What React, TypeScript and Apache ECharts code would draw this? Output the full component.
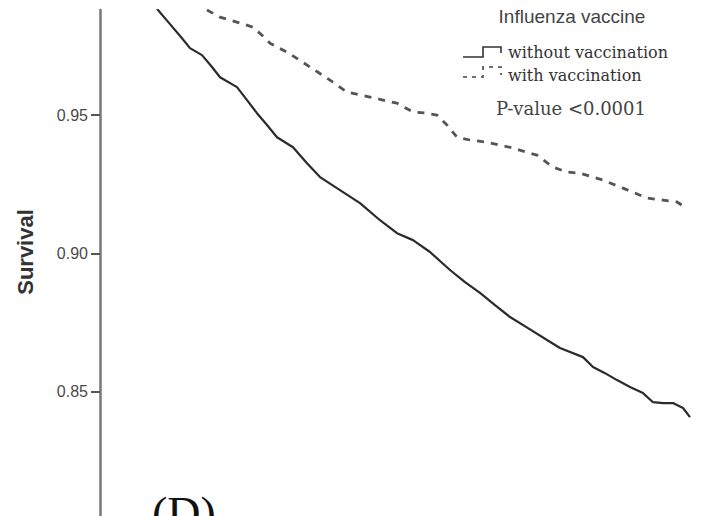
import React, { useEffect, useRef } from "react";
import * as echarts from "echarts";

// Follow-up time (arbitrary units, hidden axis) and survival, group without vaccination
const unvaccTime = [5.0, 5.8, 7.0, 8.2, 9.0, 10.2, 11.2, 12.0, 13.7, 14.7, 15.7, 16.7, 17.7, 18.5, 19.3, 20.7, 22.0, 24.0, 26.0, 28.0, 29.7, 31.3, 33.0, 35.0, 36.5, 38.0, 39.5, 41.0, 42.8, 44.7, 46.0, 48.3, 49.3, 50.5, 51.7, 53.0, 54.3, 55.3, 56.3, 57.3, 58.3, 59.0];
const unvaccSurv = [0.9937, 0.988, 0.9829, 0.9778, 0.9742, 0.9717, 0.9674, 0.9637, 0.9601, 0.9554, 0.9507, 0.9464, 0.942, 0.9402, 0.9384, 0.9326, 0.9276, 0.9229, 0.9182, 0.912, 0.9073, 0.9048, 0.9005, 0.894, 0.8896, 0.8857, 0.8813, 0.877, 0.873, 0.8687, 0.8658, 0.8625, 0.8589, 0.8567, 0.8542, 0.8517, 0.8495, 0.8462, 0.8459, 0.8459, 0.8441, 0.8408];

// Group with vaccination
const vaccTime = [10.7, 12.0, 14.0, 15.3, 16.2, 17.0, 18.7, 21.0, 23.3, 24.7, 27.0, 29.7, 31.3, 32.7, 33.7, 34.7, 35.7, 37.0, 38.7, 41.3, 43.7, 45.3, 46.7, 48.0, 50.3, 52.3, 54.7, 56.3, 57.7, 58.5];
const vaccSurv = [0.988, 0.9854, 0.9833, 0.9818, 0.9789, 0.976, 0.9728, 0.9674, 0.9619, 0.9583, 0.9565, 0.9543, 0.9511, 0.9507, 0.95, 0.9464, 0.942, 0.941, 0.9402, 0.9381, 0.9355, 0.9312, 0.9294, 0.929, 0.9265, 0.9236, 0.92, 0.9193, 0.9186, 0.9167];

const yTicks = [0.8, 0.85, 0.9, 0.95];
const yMin = 0.8;
const yMax = 0.988;
const xMax = 60;

const legendTitle = "Influenza vaccine";
const legendLabels = ["without vaccination", "with vaccination"];
const pValueText = "P-value <0.0001";
const panelLabel = "(D)";
const yAxisTitle = "Survival";

export default function App() {
  const ref = useRef<HTMLDivElement>(null);

  useEffect(() => {
    document.body.style.margin = "0";
    const chart = echarts.init(ref.current!, null, { renderer: "svg" });
    const solidData = unvaccTime.map((t, i) => [t, unvaccSurv[i]]);
    const dashData = vaccTime.map((t, i) => [t, vaccSurv[i]]);

    chart.setOption({
      animation: false,
      backgroundColor: "#ffffff",
      grid: {
        left: 100,
        right: 14,
        top: 10,
        bottom: -14,
        containLabel: false,
        outerBoundsMode: "none",
      },
      xAxis: { type: "value", min: 0, max: xMax, show: false },
      yAxis: {
        type: "value",
        min: yMin,
        max: yMax,
        axisLine: { show: true, lineStyle: { color: "#777", width: 2.5 } },
        axisTick: {
          show: true,
          length: 9,
          customValues: yTicks,
          lineStyle: { color: "#555", width: 2 },
        },
        axisLabel: {
          margin: 12,
          fontSize: 16,
          color: "#4a4a4a",
          fontFamily: "Liberation Sans",
          customValues: yTicks,
          formatter: (v: number) => v.toFixed(2),
        },
        splitLine: { show: false },
      },
      series: [
        {
          name: legendLabels[0],
          type: "line",
          data: solidData,
          showSymbol: false,
          clip: true,
          lineStyle: { color: "#2b2b2b", width: 2.2 },
        },
        {
          name: legendLabels[1],
          type: "line",
          data: dashData,
          showSymbol: false,
          clip: true,
          lineStyle: { color: "#555", width: 2.8, type: [7, 7] },
        },
      ],
      graphic: [
        {
          type: "text",
          x: 25,
          y: 252,
          rotation: Math.PI / 2,
          style: {
            text: yAxisTitle,
            font: "bold 22px 'Liberation Sans'",
            fill: "#333",
            align: "center",
            verticalAlign: "middle",
            textAlign: "center",
            textVerticalAlign: "middle",
          },
        },
        {
          type: "text",
          x: 572,
          y: 16,
          style: {
            text: legendTitle,
            font: "19px 'Liberation Sans'",
            fill: "#444",
            align: "center",
            verticalAlign: "middle",
            textAlign: "center",
            textVerticalAlign: "middle",
          },
        },
        {
          type: "polyline",
          shape: { points: [[463, 57], [483, 57], [483, 47], [501, 47], [501, 53]] },
          style: { stroke: "#333", lineWidth: 1.6, fill: "none" },
        },
        {
          type: "text",
          x: 508,
          y: 52,
          style: {
            text: legendLabels[0],
            font: "16px 'DejaVu Serif'",
            fill: "#333",
            align: "left",
            verticalAlign: "middle",
            textAlign: "left",
            textVerticalAlign: "middle",
          },
        },
        {
          type: "polyline",
          shape: { points: [[463, 77], [483, 77], [483, 67], [501, 67], [501, 75]] },
          style: { stroke: "#444", lineWidth: 1.6, fill: "none", lineDash: [4, 5] },
        },
        {
          type: "text",
          x: 508,
          y: 75,
          style: {
            text: legendLabels[1],
            font: "16px 'DejaVu Serif'",
            fill: "#333",
            align: "left",
            verticalAlign: "middle",
            textAlign: "left",
            textVerticalAlign: "middle",
          },
        },
        {
          type: "text",
          x: 571,
          y: 108,
          style: {
            text: pValueText,
            font: "18px 'DejaVu Serif'",
            fill: "#444",
            align: "center",
            verticalAlign: "middle",
            textAlign: "center",
            textVerticalAlign: "middle",
          },
        },
        {
          type: "text",
          x: 152,
          y: 490,
          style: {
            text: panelLabel,
            font: "46px 'Liberation Serif'",
            fill: "#111",
            align: "left",
            verticalAlign: "top",
            textAlign: "left",
            textVerticalAlign: "top",
          },
        },
      ],
    });
    return () => chart.dispose();
  }, []);

  return (
    <div
      ref={ref}
      style={{ position: "fixed", left: 0, top: 0, width: 714, height: 516 }}
    />
  );
}
